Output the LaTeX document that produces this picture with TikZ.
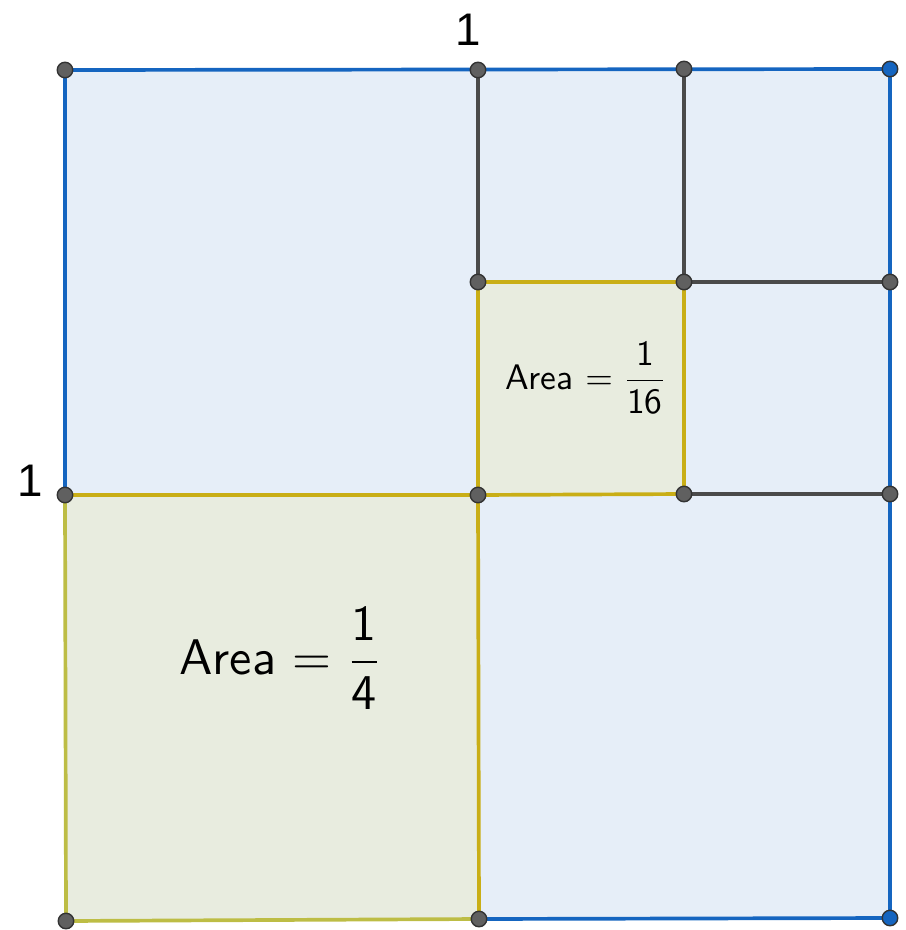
\documentclass[tikz,border=0pt]{standalone}
\usepackage{fontspec}
\newfontfamily\labelfont{Liberation Sans}
\definecolor{sqblue}{HTML}{1565C0}
\definecolor{sqfill}{HTML}{E6EEF8}
\definecolor{sqgold}{HTML}{C9AE16}
\definecolor{sqolive}{HTML}{BDBD45}
\definecolor{greenfill}{HTML}{E8ECDF}
\definecolor{ptgrey}{HTML}{606060}
\definecolor{edgegrey}{HTML}{4A4A4A}

\begin{document}
\begin{tikzpicture}[x=0.02cm,y=-0.02cm,
	pt/.style={circle, draw=black!80, fill=ptgrey, line width=0.8pt, inner sep=0pt, minimum size=0.31cm},
	bluept/.style={pt, fill=sqblue},
	blueedge/.style={sqblue, line width=2.1pt},
	goldedge/.style={sqgold, line width=2.1pt},
	oliveedge/.style={sqolive, line width=2.1pt},
	greyedge/.style={edgegrey, line width=2.1pt},
	sidelabel/.style={font=\labelfont\fontsize{26}{30}\selectfont}]
	\useasboundingbox (0,0) rectangle (906,930);

	\coordinate (a) at (65,70);
	\coordinate (b) at (478,70);
	\coordinate (c) at (684,69);
	\coordinate (d) at (890,69);
	\coordinate (e) at (478,282);
	\coordinate (f) at (684,282);
	\coordinate (g) at (890,282);
	\coordinate (h) at (65,495);
	\coordinate (i) at (478,495);
	\coordinate (j) at (684,494);
	\coordinate (k) at (890,494);
	\coordinate (l) at (66,921);
	\coordinate (m) at (479,919);
	\coordinate (n) at (890,918);

	\fill[sqfill] (a) -- (d) -- (n) -- (l) -- cycle ;
	\fill[greenfill] (h) -- (i) -- (m) -- (l) -- cycle ;
	\fill[greenfill] (e) -- (f) -- (j) -- (i) -- cycle ;

	\draw [greyedge] (b) -- (e) ;
	\draw [greyedge] (c) -- (f) ;
	\draw [greyedge] (f) -- (g) ;
	\draw [greyedge] (j) -- (k) ;

	\draw [blueedge] (h) -- (a) -- (d) -- (n) -- (m) ;

	\draw [goldedge] (e) -- (f) -- (j) -- (i) -- cycle ;
	\draw [goldedge] (h) -- (i) -- (m) ;
	\draw [oliveedge] (h) -- (l) -- (m) ;

	\foreach \p in {a,b,c,e,f,g,h,i,j,k,l,m}
		\node[pt] (pt-\p) at (\p) {} ;
	\node[bluept] (pt-d) at (d) {} ;
	\node[bluept] (pt-n) at (n) {} ;

	\node[sidelabel] (toplabel) at (468,30) {1} ;
	\node[sidelabel] (leftlabel) at (30,481) {1} ;

	\node (bigarea) at (281,658) {\scalebox{2.85}{\sffamily Area $= \displaystyle\frac{\mathsf{1}}{\mathsf{4}}$}} ;
	\node (smallarea) at (586,378) {\scalebox{2.02}{\sffamily Area $= \displaystyle\frac{\mathsf{1}}{\mathsf{16}}$}} ;
\end{tikzpicture}
\end{document}
